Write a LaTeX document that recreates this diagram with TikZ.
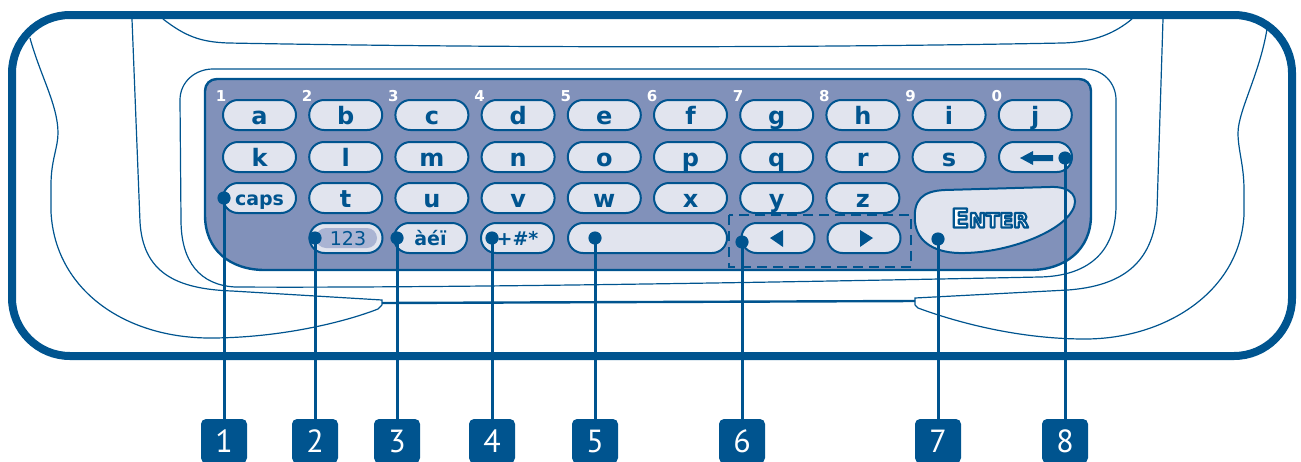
\documentclass[tikz,border=0pt]{standalone}
\usepackage{fontspec}
\setmainfont{DejaVu Sans}
\newfontfamily\calloutfont{PT Sans}
\definecolor{edge}{RGB}{0,84,143}
\definecolor{panel}{RGB}{129,145,186}
\definecolor{keyfill}{RGB}{225,228,238}
\definecolor{numfill}{RGB}{170,180,211}
% white letters with a dark blue rim (fill + stroke text mode)
\newcommand{\rimtext}[1]{\special{pdf:literal direct 2 Tr 1.1 w 1 j 0 0.329 0.561 RG}#1\special{pdf:literal direct 0 Tr}}
\newcommand{\entertext}{{\fontsize{13}{13}\selectfont E}{\fontsize{10}{10}\selectfont NTER}}
\tikzset{
  casing/.style ={draw=edge, line width=4pt},
  contour/.style={draw=edge, line width=0.6pt},
  key/.style    ={draw=edge, fill=keyfill, line width=1pt, rounded corners=7.5pt, minimum width=36.5pt, minimum height=15pt,
                  inner sep=0pt, text height=10pt, text depth=1pt, text=edge, font=\bfseries\fontsize{12}{12}\selectfont},
  smallkey/.style={key, font=\bfseries\fontsize{9.5}{10}\selectfont, text height=8pt, text depth=0.5pt},
  digit/.style  ={text=white, inner sep=0pt, font=\bfseries\fontsize{7.5}{8}\selectfont},
  entertxt/.style={inner sep=0pt, text=white, font=\bfseries},
  callout/.style={fill=edge, text=white, rounded corners=2.5pt, minimum width=23pt, minimum height=22pt, inner sep=0pt,
                  text height=11pt, text depth=0pt, font=\calloutfont\fontsize{16}{16}\selectfont},
  lead/.style   ={draw=edge, line width=1.5pt},
}

\begin{document}
\begin{tikzpicture}[x=0.5pt, y=-0.5pt]
  \useasboundingbox (0,0) rectangle (1301,461);
  % casing
  \draw[casing, rounded corners=29pt] (12,15) rectangle (1292,356);
  \draw[contour] (163,19) .. controls (185,36) and (200,42) .. (228,43)
    .. controls (500,48) and (800,48) .. (1063,43) .. controls (1095,42) and (1115,33) .. (1132,19);
  \draw[contour] (132,19) -- (140,222) .. controls (143,272) and (175,289) .. (232,291) -- (382,300) -- (382,305);
  \draw[contour] (1163,19) -- (1157,210) .. controls (1153,265) and (1120,286) .. (1068,290) -- (915,298) -- (915,305);
  \draw[edge, line width=1.2pt] (382,303) -- (915,301);
  \draw[contour] (30,38) .. controls (40,75) and (58,105) .. (58,133) .. controls (58,148) and (51,160) .. (51,185)
    -- (51,212) .. controls (55,290) and (125,338) .. (210,338) .. controls (280,338) and (345,322) .. (378,309) -- (382,305);
  \draw[contour] (1268,22) .. controls (1262,70) and (1238,110) .. (1238,133) .. controls (1238,150) and (1244,165) .. (1244,190)
    -- (1244,215) .. controls (1240,292) and (1165,339) .. (1085,339) .. controls (1010,339) and (945,318) .. (918,308) -- (915,305);
  \draw[contour] (180,100) .. controls (180,82) and (195,69) .. (213,69) -- (1085,69) .. controls (1102,69) and (1116,82) .. (1116,100)
    -- (1116,205) .. controls (1116,255) and (1085,276) .. (1040,277) .. controls (700,284) and (400,288) .. (235,287)
    .. controls (200,285) and (181,262) .. (181,220) -- cycle;
  % key panel
  \filldraw[fill=panel, draw=edge, line width=1.2pt] (205,91) -- (205,215) .. controls (205,250) and (230,270) .. (265,270)
    -- (1030,270) .. controls (1065,270) and (1091,250) .. (1091,215) -- (1091,91) .. controls (1091,84) and (1086,79) .. (1079,79)
    -- (217,79) .. controls (210,79) and (205,84) .. (205,91) -- cycle;

  % letter keys
  \foreach \t [count=\i from 0] in {a,b,c,d,e,f,g,h,i,j}
    \node[key] (k\t) at ({259.5+86.2*\i},115) {\t};
  \foreach \n [count=\i from 0] in {1,2,3,4,5,6,7,8,9,0}
    \node[digit] (n\n) at ({221+86.2*\i},96) {\n};
  \foreach \t [count=\i from 0] in {k,l,m,n,o,p,q,r,s}
    \node[key] (k\t) at ({259.5+86.2*\i},157) {\t};
  \node[key] (kback) at (1035.5,157) {};
  \fill[edge] (1020,158) -- (1033,151) -- (1033,155) -- (1053,155) -- (1053,161) -- (1033,161) -- (1033,165) -- cycle;
  \node[smallkey] (kcaps) at (259.5,198) {caps};
  \foreach \t [count=\i from 1] in {t,u,v,w,x,y,z}
    \node[key] (k\t) at ({259.5+86.2*\i},198) {\t};

  % bottom row
  \node[key] (knum) at (346,238) {};
  \fill[numfill, rounded corners=5pt] (316,228) rectangle (377,248);
  \node[text=edge, font=\fontsize{9.5}{10}\selectfont] (tnum) at (348,238.5) {123};
  \node[smallkey] (kacc) at (430.5,238) {àéï};
  \node[smallkey] (ksym) at (517.5,238) {+\#*};
  \node[key, minimum width=79.5pt] (kspace) at (647.5,238) {};
  \node[key] (kleft) at (778,238) {};
  \node[key] (kright) at (864,238) {};
  \fill[edge] (770,238) -- (783,230) -- (783,247) -- cycle;
  \fill[edge] (873,238) -- (860,230) -- (860,247) -- cycle;
  \draw[edge, line width=1.3pt, dash pattern=on 5pt off 3pt] (729,215) rectangle (911,267);

  % enter key
  \filldraw[fill=keyfill, draw=edge, line width=1pt] (915,222) .. controls (913,200) and (922,191) .. (945,190) -- (1050,187)
    .. controls (1072,186) and (1080,198) .. (1072,211) .. controls (1060,232) and (1010,252) .. (965,253)
    .. controls (935,254) and (917,242) .. (915,222) -- cycle;
  \node[entertxt] (enter) at (990,218) {\rimtext{\entertext}};

  % callouts
  \foreach \x/\y [count=\i] in {224/198, 315/238, 397/238, 492/238, 595/238, 742/242, 938/239, 1065/158} {
    \coordinate (d\i) at (\x,\y);
    \node[callout] (c\i) at (\x,441) {\i};
    \draw[lead] (d\i) -- (c\i.north);
    \fill[edge] (d\i) circle (3.3pt);
  }
\end{tikzpicture}
\end{document}
